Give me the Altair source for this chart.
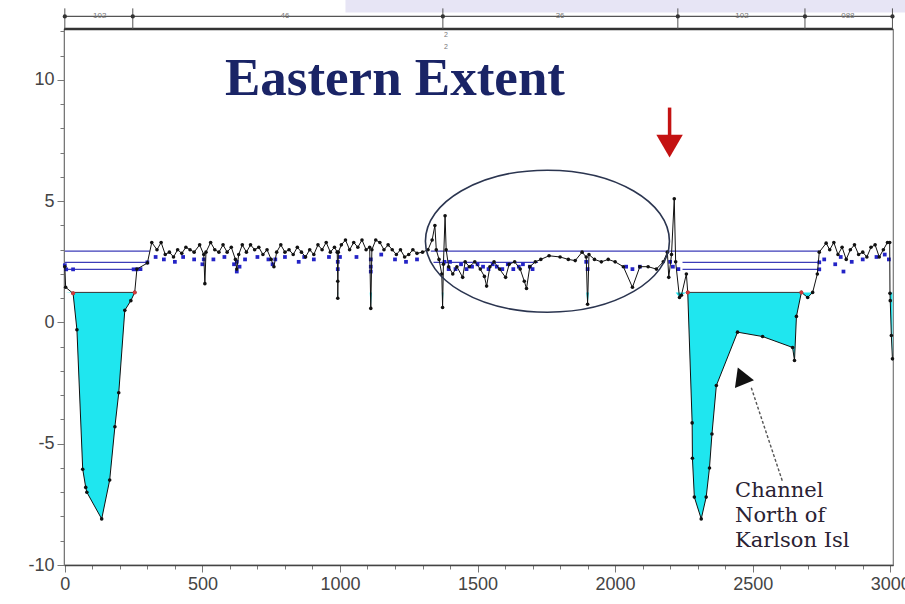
import altair as alt
import pandas as pd

# ---------------- data ----------------
prof_x = [0, 3, 30, 44, 65, 76, 80, 134, 163, 182, 196, 218, 240, 254, 262, 300, 316,
          335, 350, 365, 380, 395, 410, 425, 440, 455, 470, 490, 505, 509, 513, 530, 545,
          560, 575, 590, 605, 620, 625, 632, 645, 660, 675, 690, 705, 720, 735, 750, 760,
          770, 785, 800, 815, 830, 845, 860, 875, 890, 905, 920, 935, 950, 965, 980, 990,
          992, 992, 994, 1005, 1020, 1035, 1050, 1065, 1080, 1095, 1108, 1112, 1116, 1130,
          1145, 1160, 1175, 1190, 1205, 1220, 1235, 1250, 1265, 1280, 1300, 1320,
          1335, 1345, 1350, 1360, 1370, 1373, 1376, 1382, 1386, 1395, 1410, 1425, 1446,
          1455, 1470, 1490, 1510, 1525, 1533, 1545, 1560, 1580, 1602, 1615, 1635, 1655,
          1670, 1678, 1690, 1710, 1730, 1760, 1800, 1830, 1855, 1880, 1895, 1900, 1905,
          1925, 1950, 1975, 2000, 2030, 2063, 2090, 2120, 2150, 2175, 2190, 2195, 2205,
          2215, 2220, 2234, 2241, 2259, 2264, 2280, 2281, 2288, 2313, 2331, 2343, 2352,
          2368, 2445, 2536, 2645, 2652, 2659, 2677, 2700, 2718, 2735, 2742, 2767,
          2780, 2795, 2810, 2825, 2840, 2855, 2870, 2885, 2900, 2915, 2930, 2945, 2960,
          2975, 2990, 2998, 2999, 3000, 3004, 3008]
prof_y = [2.3, 1.45, 1.2, -0.3, -6.05, -6.8, -7.0, -8.1, -6.5, -4.3, -2.9, 0.5, 0.9, 1.24, 2.2, 2.45, 3.3,
          3.0, 3.3, 2.8, 2.9, 2.7, 3.0, 2.85, 3.1, 3.0, 2.9, 3.2, 2.8, 1.6, 2.9, 3.3, 3.0,
          2.9, 3.2, 2.9, 3.1, 2.6, 2.2, 2.8, 3.2, 2.9, 3.2, 3.0, 3.1, 2.8, 3.0, 2.6, 2.3,
          2.9, 3.2, 2.9, 3.0, 2.8, 3.1, 2.9, 2.7, 3.0, 2.8, 3.2, 3.0, 3.3, 2.9, 3.1, 2.9,
          1.7, 1.0, 2.9, 3.2, 3.4, 3.0, 3.3, 3.1, 3.4, 3.0, 3.1, 0.58, 3.0, 3.4,
          3.3, 3.0, 3.2, 3.0, 2.8, 3.0, 2.7, 2.8, 3.0, 2.85, 2.9, 3.0,
          3.4, 4.0, 3.0, 2.6, 2.0, 0.62, 2.4, 4.4, 3.0, 2.3, 2.0, 2.3, 1.86,
          2.5, 2.3, 2.5, 2.2, 1.9, 1.5, 2.3, 2.5, 2.2, 1.86, 2.4, 2.5, 2.2,
          1.7, 1.4, 2.3, 2.5, 2.6, 2.75, 2.7, 2.6, 2.55, 2.9, 2.7, 0.75, 2.8,
          2.6, 2.5, 2.6, 2.5, 2.3, 1.45, 2.3, 2.3, 2.2, 2.5, 2.9, 1.86, 2.8,
          5.1, 2.5, 1.03, 1.12, 2.0, 1.24, -4.14, -5.6, -7.2, -8.1, -7.2, -6.0, -4.6,
          -2.6, -0.4, -0.58, -1.03, -1.57, 0.25, 1.24, 1.03, 1.24, 2.0, 2.9, 3.27,
          3.0, 3.3, 2.8, 3.1, 2.6, 3.0, 3.2, 2.8, 2.9, 2.7, 3.1, 3.2, 2.7,
          3.0, 3.3, 3.3, 1.2, 0.9, -0.54, -1.5]

blue_x = [0, 5, 30, 250, 262, 275, 300,
          330, 360, 400, 430, 470, 500, 505, 540, 580, 615, 625, 625, 635, 655, 700, 740,
          755, 765, 800, 850, 870, 905, 960, 992, 992, 1000, 1060, 1112, 1112, 1112, 1150,
          1200, 1240, 1280,
          1380, 1395, 1400, 1420, 1440, 1460, 1480, 1500, 1520, 1540, 1555, 1570, 1590,
          1610, 1630, 1650, 1665, 1690, 1700, 1895, 1900, 2040, 2063, 2090, 2200, 2210, 2230,
          2742, 2742, 2760, 2800, 2820, 2830, 2860, 2900, 2950, 2980, 2995]
blue_y = [2.36, 2.19, 2.19, 2.19, 2.19, 2.2, 2.48,
          2.7, 2.6, 2.5, 2.7, 2.6, 2.4, 2.6, 2.6, 2.7, 2.4, 2.5, 2.1, 2.3, 2.6, 2.7, 2.6,
          2.4, 2.6, 2.7, 2.5, 2.7, 2.6, 2.7, 2.5, 2.2, 2.7, 2.7, 2.6, 2.3, 2.1, 2.8,
          2.6, 2.5, 2.6,
          2.5, 2.2, 2.5, 2.2, 2.4, 2.2, 2.3, 2.4, 2.3, 2.2, 2.4, 2.3, 2.2,
          2.4, 2.2, 2.3, 2.4, 2.3, 2.2, 2.5, 2.2, 2.3, 2.2, 2.3, 2.5, 2.3, 2.2,
          2.48, 2.19, 2.6, 2.4, 2.7, 2.1, 2.5, 2.6, 2.7, 2.8, 2.6]

lvl_y = [2.94, 2.94, 2.48, 2.48, 2.48, 2.19, 2.19]
lvl_x1 = [0, 1330, 0, 1340, 2245, 0, 2245]
lvl_x2 = [309, 2742, 300, 1720, 2742, 262, 2742]

fill_level = 1.24
fill_x1 = [30, 2264]
fill_x2 = [254, 2677]

red_x = [30, 254, 2264, 2677]
red_y = [1.2, 1.24, 1.24, 1.24]

dim_ticks = [0, 247, 1374, 2228, 2690, 3008]
dim_labels = ["102", "46", "36", "102", "088"]
dim_label_x = [127, 800, 1800, 2461, 2846]

x_ticks = list(range(0, 3001, 100))
y_ticks = list(range(-10, 13))

# ---------------- tables ----------------
prof = pd.DataFrame({"x": prof_x, "y": prof_y, "i": list(range(len(prof_x)))})
prof["yc"] = [min(v, fill_level) for v in prof_y]
prof["top"] = fill_level
blue = pd.DataFrame({"x": blue_x, "y": blue_y})
lvls = pd.DataFrame({"x": lvl_x1, "x2": lvl_x2, "y": lvl_y})
fills = pd.DataFrame({"x": fill_x1, "x2": fill_x2, "y": [fill_level] * len(fill_x1)})
reds = pd.DataFrame({"x": red_x, "y": red_y})

XMIN, XMAX = -3, 3010
YMIN, YMAX = -10, 12.1

xs = alt.Scale(domain=[XMIN, XMAX], nice=False, zero=False)
ys = alt.Scale(domain=[YMIN, YMAX], nice=False, zero=False)

xa = alt.Axis(values=x_ticks, title=None, grid=False,
              labelExpr="datum.value % 500 === 0 ? '' + datum.value : ''",
              tickSize={"condition": {"test": "datum.value % 500 === 0", "value": 7}, "value": 4},
              labelFontSize=18, labelColor="#444", labelFont="Liberation Sans",
              labelOverlap=False, labelFlush=False, labelPadding=3,
              tickColor="#777", domainColor="#444", domainWidth=1.5)
ya = alt.Axis(values=y_ticks, title=None, grid=False,
              labelExpr="datum.value % 5 === 0 ? '' + datum.value : ''",
              tickSize={"condition": {"test": "datum.value % 5 === 0", "value": 7}, "value": 4},
              labelFontSize=18, labelColor="#444", labelFont="Liberation Sans",
              labelOverlap=False, labelFlush=False, labelPadding=3,
              tickColor="#777", domainColor="#777")


def X(f="x"):
    return alt.X(f"{f}:Q", scale=xs, axis=xa)


def Y(f="y"):
    return alt.Y(f"{f}:Q", scale=ys, axis=ya)


# cyan fill below the 1.24 level
area = alt.Chart(prof).mark_area(color="#1fe6ef", opacity=1, interpolate="linear").encode(
    x=X(), y=Y("yc"), y2=alt.Y2("top")
)

fill_edges = alt.Chart(fills).mark_rule(color="#333", strokeWidth=1).encode(
    x=X(), x2="x2:Q", y=Y()
)

level_lines = alt.Chart(lvls).mark_rule(color="#3c3cb8", strokeWidth=1.2).encode(
    x=X(), x2="x2:Q", y=Y()
)

blue_pts = alt.Chart(blue).mark_point(shape="square", filled=True, size=14,
                                      color="#2323c6", opacity=1).encode(x=X(), y=Y())

line = alt.Chart(prof).mark_line(color="#111", strokeWidth=1).encode(
    x=X(), y=Y(), order=alt.Order("i:Q")
)
dots = alt.Chart(prof).mark_point(shape="circle", filled=True, size=13,
                                  color="#111", opacity=1).encode(x=X(), y=Y())
red_pts = alt.Chart(reds).mark_point(shape="circle", filled=True, size=16,
                                     color="#d03a3a", opacity=1).encode(x=X(), y=Y())

# frame and top dimension annotation
frame_top = alt.Chart(pd.DataFrame({"x": [XMIN], "x2": [XMAX], "y": [YMAX]})).mark_rule(
    color="#333", strokeWidth=2.5).encode(x=X(), x2="x2:Q", y=Y())
dim_line = alt.Chart(pd.DataFrame({"x": [dim_ticks[0]], "x2": [dim_ticks[-1]], "y": [12.62]})).mark_rule(
    color="#555", strokeWidth=1.2).encode(x=X(), x2="x2:Q", y=Y())
dim_tk = alt.Chart(pd.DataFrame({"x": dim_ticks, "y": [12.95] * len(dim_ticks), "y2": [12.1] * len(dim_ticks)})).mark_rule(
    color="#555", strokeWidth=1).encode(x=X(), y=Y(), y2="y2:Q")
dim_dots = alt.Chart(pd.DataFrame({"x": dim_ticks, "y": [12.62] * len(dim_ticks)})).mark_point(
    shape="circle", filled=True, size=18, color="#333", opacity=1).encode(x=X(), y=Y())
dim_txt = alt.Chart(pd.DataFrame({"x": dim_label_x, "y": [12.62] * 5, "t": dim_labels})).mark_text(
    fontSize=8, color="#777", font="Liberation Sans", baseline="middle").encode(x=X(), y=Y(), text="t:N")
mark2 = alt.Chart(pd.DataFrame({"x": [1374, 1374], "y": [11.85, 11.35], "t": ["2", "2"]})).mark_text(
    fontSize=7, color="#777", font="Liberation Sans", dx=3, baseline="middle").encode(x=X(), y=Y(), text="t:N")

# lavender slide decoration at top
lav = alt.Chart(pd.DataFrame({"x": [1020], "x2": [3100], "y": [13.4], "y2": [12.78]})).mark_rect(
    color="#e7e5f5").encode(x=X(), x2="x2:Q", y=Y(), y2="y2:Q")

# title
title = alt.Chart(pd.DataFrame({"x": [1200], "y": [9.38], "t": ["Eastern Extent"]})).mark_text(
    font="Liberation Serif", fontWeight="bold", fontSize=53, color="#1a2466",
    align="center", baseline="alphabetic").encode(x=X(), y=Y(), text="t:N")

# circled region
ellipse_path = "M -1 0 A 1 0.582 0 1 1 1 0 A 1 0.582 0 1 1 -1 0 Z"
ellipse = alt.Chart(pd.DataFrame({"x": [1754], "y": [3.35]})).mark_point(
    shape=ellipse_path, size=59536, filled=False, stroke="#2b3550", strokeWidth=1.6,
    opacity=1).encode(x=X(), y=Y())

# red arrow
red_shaft = alt.Chart(pd.DataFrame({"x": [2198], "y": [8.86], "y2": [7.5]})).mark_rule(
    color="#c41212", strokeWidth=3.5).encode(x=X(), y=Y(), y2="y2:Q")
red_head = alt.Chart(pd.DataFrame({"x": [2198], "y": [7.27]})).mark_point(
    shape="triangle-down", filled=True, size=700, color="#c41212", opacity=1).encode(x=X(), y=Y())

# channel annotation
ann_shaft = alt.Chart(pd.DataFrame({"x": [2495], "x2": [2608], "y": [-2.69], "y2": [-6.54]})).mark_rule(
    color="#555", strokeWidth=1.4, strokeDash=[3, 2]).encode(x=X(), x2="x2:Q", y=Y(), y2="y2:Q")
ann_head = alt.Chart(pd.DataFrame({"x": [2458], "y": [-2.2]})).mark_point(
    shape="triangle-up", filled=True, size=420, color="#111", opacity=1, angle=338).encode(x=X(), y=Y())
ann_txt = alt.Chart(pd.DataFrame({"x": [2436], "y": [-7.2], "t": ["Channel\nNorth of\nKarlson Isl"]})).mark_text(
    font="DejaVu Serif", fontSize=21, color="#2a2233", align="left", baseline="alphabetic",
    lineBreak="\n", lineHeight=25).encode(x=X(), y=Y(), text="t:N")

chart = alt.layer(
    lav, area, fill_edges, level_lines, blue_pts, line, dots, red_pts,
    frame_top, dim_line, dim_tk, dim_dots, dim_txt, mark2,
    title, ellipse, red_shaft, red_head, ann_shaft, ann_head, ann_txt
).properties(
    width=829, height=536,
    autosize=alt.AutoSizeParams(type="none"),
    padding={"left": 64, "top": 29, "right": 12, "bottom": 39},
    background="white",
).configure_view(stroke="#777", strokeWidth=1.2)

chart.save("out.html", embed_options={"renderer": "svg", "actions": False})
